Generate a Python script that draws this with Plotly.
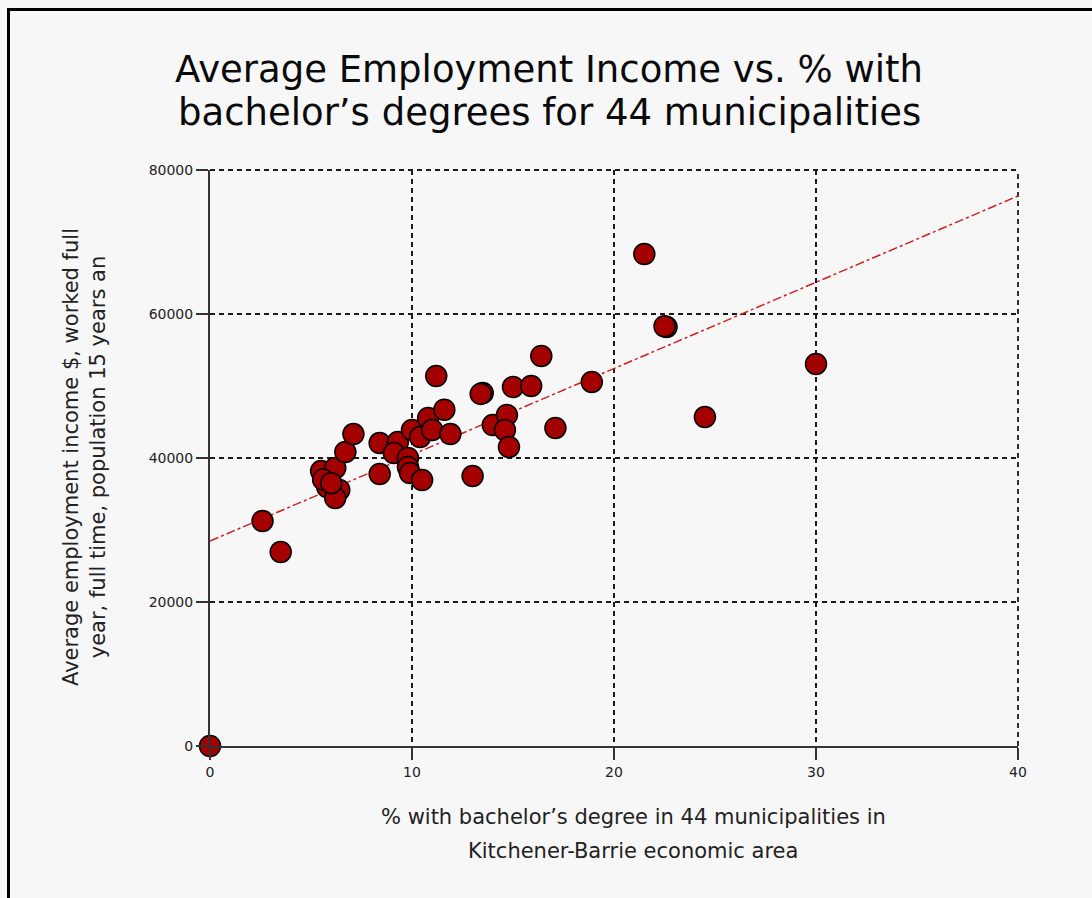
import plotly.graph_objects as go

# ---- data ----
pct_bachelor = [0, 2.6, 3.5, 5.5, 6.2, 5.8, 6.4, 6.2, 6.7, 7.1, 8.4, 8.4, 9.3, 9.1, 9.8,
                9.8, 9.9, 10.5, 10.0, 10.4, 10.8, 11.0, 11.6, 11.9, 11.2, 13.5, 13.0, 14.0,
                14.7, 14.6, 14.8, 15.0, 15.9, 16.4, 17.1, 18.9, 21.5, 22.6, 24.5, 30.0,
                13.4, 22.5, 5.6, 6.0]
avg_income = [0, 31250, 26950, 38190, 38610, 35970, 35560, 34440, 40830, 43330, 37780,
              42080, 42220, 40690, 40000, 38750, 37900, 36940, 43890, 42900, 45560, 43890,
              46700, 43330, 51390, 49030, 37500, 44580, 45970, 43890, 41530, 49860, 50000,
              54170, 44170, 50560, 68330, 58190, 45690, 53060, 48900, 58300, 37000, 36500]

trend_x = [0, 40]
trend_intercept = 28470
trend_slope = 1198
trend_y = [trend_intercept + trend_slope * v for v in trend_x]

x_ticks = [0, 10, 20, 30, 40]
y_ticks = [0, 20000, 40000, 60000, 80000]

title_lines = ["Average Employment Income vs. % with",
               "bachelor’s degrees for 44 municipalities"]
x_title_lines = ["% with bachelor’s degree in 44 municipalities in",
                 "Kitchener-Barrie economic area"]
y_title = "Average employment income $, worked full<br>year, full time, population 15 years an"

W, H = 1092, 898
L, R, T, B = 210, 74, 170, 152
pw, ph = W - L - R, H - T - B

BG = "#f7f7f7"
FONT = "DejaVu Sans"
GRID = dict(color="#1a1a1a", width=1.8, dash="5px,4px")

fig = go.Figure()
fig.add_trace(go.Scatter(
    x=trend_x, y=trend_y, mode="lines",
    line=dict(color="#d02020", width=1.5, dash="dashdot"),
    hoverinfo="skip", showlegend=False, cliponaxis=False))
fig.add_trace(go.Scatter(
    x=pct_bachelor, y=avg_income, mode="markers",
    marker=dict(size=21, color="#a50000", line=dict(color="#000000", width=1.5)),
    showlegend=False, cliponaxis=False))

axis_common = dict(
    showgrid=True, gridcolor=GRID["color"], gridwidth=GRID["width"], griddash=GRID["dash"],
    zeroline=False, showline=True, linecolor="#333333", linewidth=2,
    ticks="outside", tickcolor="#333333", tickwidth=2, ticklen=12,
    tickfont=dict(family=FONT, size=14, color="#222222"),
)


def px_x(p):
    return (p - L) / pw


def px_y(p):
    return (H - B - p) / ph


annotations = []
for line, yc in zip(title_lines, [70, 112]):
    annotations.append(dict(text=line, xref="paper", yref="paper", x=px_x(549), y=px_y(yc),
                            xanchor="center", yanchor="middle", showarrow=False,
                            font=dict(family=FONT, size=37, color="#0a0a0a")))
for line, yc in zip(x_title_lines, [817, 851]):
    annotations.append(dict(text=line, xref="paper", yref="paper", x=px_x(633), y=px_y(yc),
                            xanchor="center", yanchor="middle", showarrow=False,
                            font=dict(family=FONT, size=21, color="#222222")))
annotations.append(dict(text=y_title, xref="paper", yref="paper", x=px_x(84), y=px_y(457),
                        xanchor="center", yanchor="middle", showarrow=False, textangle=-90,
                        font=dict(family=FONT, size=21, color="#222222")))

shapes = [
    dict(type="rect", xref="paper", yref="paper",
         x0=px_x(8.5), x1=px_x(1110), y0=px_y(915), y1=px_y(9.5),
         line=dict(color="#000000", width=3), fillcolor="rgba(0,0,0,0)", layer="above"),
    # outer grid lines at the range ends (plotly skips them at the edges)
    dict(type="line", xref="paper", yref="paper", x0=0, x1=1, y0=1, y1=1,
         line=GRID, layer="below"),
    dict(type="line", xref="paper", yref="paper", x0=1, x1=1, y0=0, y1=1,
         line=GRID, layer="below"),
]

fig.update_layout(
    width=W, height=H,
    margin=dict(l=L, r=R, t=T, b=B, autoexpand=False),
    paper_bgcolor=BG, plot_bgcolor=BG,
    xaxis=dict(range=[0, 40], tickvals=x_ticks, ticktext=[str(v) for v in x_ticks],
               **axis_common),
    yaxis=dict(range=[0, 80000], tickvals=y_ticks, ticktext=[str(v) for v in y_ticks],
               **axis_common),
    annotations=annotations,
    shapes=shapes,
)

fig.write_html("out.html")
